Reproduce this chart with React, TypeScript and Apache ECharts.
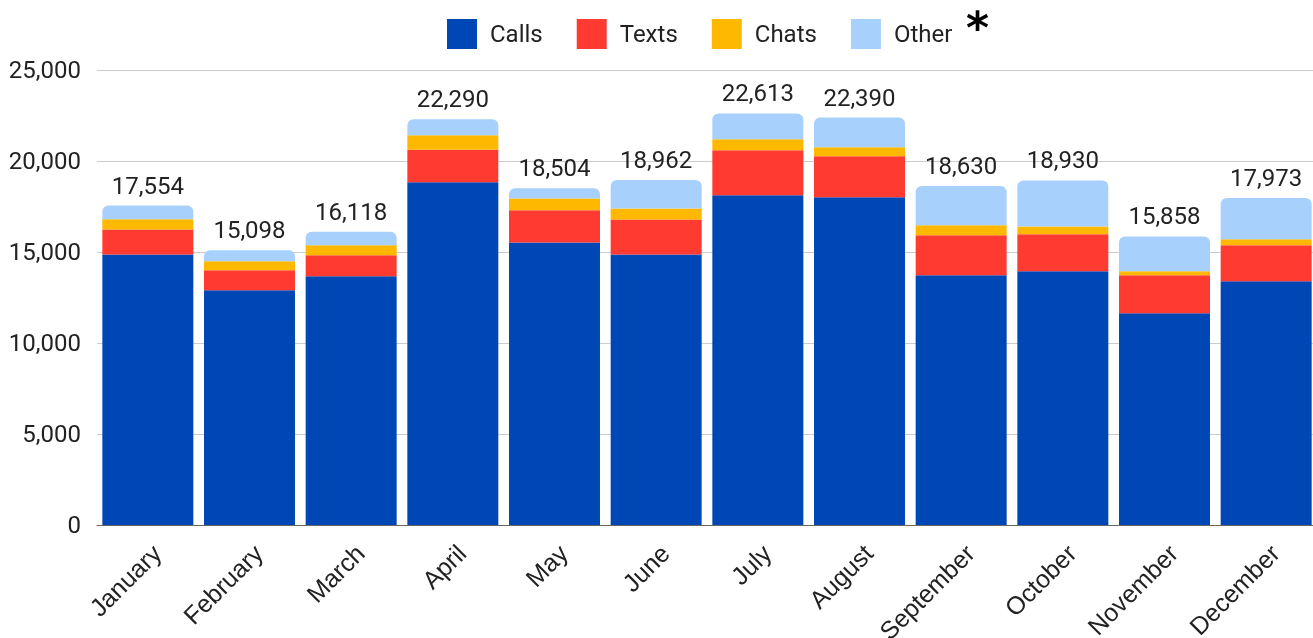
import React, { useEffect, useRef } from "react";
import * as echarts from "echarts";

const months = ["January", "February", "March", "April", "May", "June", "July", "August", "September", "October", "November", "December"];
const calls = [14860, 12900, 13670, 18830, 15520, 14860, 18115, 18005, 13725, 13945, 11640, 13395];
const texts = [1370, 1100, 1150, 1795, 1775, 1920, 2470, 2250, 2195, 2030, 2085, 1975];
const chats = [565, 495, 550, 785, 640, 605, 605, 495, 550, 425, 220, 330];
const other = [759, 603, 748, 880, 569, 1577, 1423, 1640, 2160, 2530, 1913, 2273];
const yTicks = [0, 5000, 10000, 15000, 20000, 25000];

const fmt = (v: number) => v.toLocaleString("en-US");

export default function App() {
  const ref = useRef<HTMLDivElement>(null);
  useEffect(() => {
    if (!ref.current) return;
    const chart = echarts.init(ref.current, null, { renderer: "svg" });
    const totals = months.map((_, i) => calls[i] + texts[i] + chats[i] + other[i]);
    const mk = (name: string, data: number[], color: string, extra: any = {}) => ({
      name,
      type: "bar",
      stack: "total",
      data,
      itemStyle: { color },
      barCategoryGap: "10.5%",
      emphasis: { disabled: true },
      ...extra,
    });
    chart.setOption({
      animation: false,
      legend: {
        left: 447,
        top: 19,
        padding: 0,
        itemWidth: 30,
        itemHeight: 30,
        itemGap: 34,
        icon: "rect",
        textStyle: { fontFamily: "Roboto", fontSize: 24, color: "#222", padding: [0, 0, 0, 8] },
        data: ["Calls", "Texts", "Chats", "Other"],
      },
      graphic: [
        {
          type: "text",
          left: 966,
          top: 5,
          style: { text: "*", fontSize: 44, fontWeight: "bold", fontFamily: "DejaVu Sans", fill: "#000" },
        },
      ],
      grid: { left: 97, right: -4, top: 70, bottom: 113, containLabel: false, outerBoundsMode: "none" },
      xAxis: {
        type: "category",
        data: months,
        axisTick: { show: false },
        axisLine: { lineStyle: { color: "#666", width: 1 } },
        axisLabel: {
          interval: 0,
          rotate: 45,
          fontFamily: "Liberation Sans",
          fontSize: 25,
          color: "#222",
          margin: 15,
          verticalAlign: "top",
        },
      },
      yAxis: {
        type: "value",
        min: yTicks[0],
        max: yTicks[yTicks.length - 1],
        interval: 5000,
        axisLabel: {
          fontFamily: "Roboto",
          fontSize: 24,
          color: "#222",
          margin: 16,
          formatter: (v: number) => fmt(v),
        },
        splitLine: { lineStyle: { color: "#cccccc" } },
        axisLine: { show: false },
        axisTick: { show: false },
      },
      series: [
        mk("Calls", calls, "#0047b6"),
        mk("Texts", texts, "#ff3a30"),
        mk("Chats", chats, "#ffb800"),
        mk("Other", other, "#a8d0fc", {
          itemStyle: { color: "#a8d0fc", borderRadius: [6, 6, 0, 0] },
          label: {
            show: true,
            position: "top",
            distance: 8,
            fontFamily: "Roboto",
            fontSize: 24,
            color: "#222",
            formatter: (p: any) => fmt(totals[p.dataIndex]),
          },
        }),
      ],
    });
    return () => chart.dispose();
  }, []);
  return <div ref={ref} style={{ position: "fixed", left: 0, top: 0, width: 1313, height: 638 }} />;
}
